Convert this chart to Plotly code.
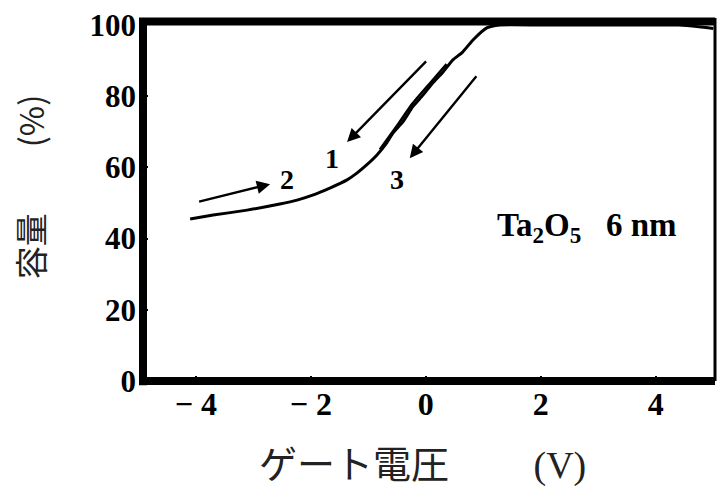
import plotly.graph_objects as go

# Capacitance vs. gate voltage (Ta2O5, 6 nm) – sweep curves
voltage_main = [-4.10, -3.70, -3.11, -2.54, -2.24, -1.97, -1.67, -1.37, -1.20, -1.03,
                -0.85, -0.68, -0.57, -0.40, -0.23, -0.05, 0.12, 0.30, 0.47, 0.64,
                0.82, 1.06, 1.29, 2.0, 3.0, 4.0, 4.4, 4.75, 5.0]
capacity_main = [45.5, 46.6, 48.0, 49.7, 50.8, 52.2, 54.2, 56.5, 58.4, 60.7,
                 63.5, 66.9, 69.7, 72.8, 77.0, 80.3, 83.7, 86.8, 90.2, 92.4,
                 95.8, 99.2, 100.0, 100.0, 100.0, 100.0, 100.0, 99.5, 99.0]

# second sweep branch running just beside the steep part
voltage_branch = [-0.80, -0.49, -0.23, 0.09, 0.36]
capacity_branch = [65.0, 72.0, 78.0, 84.0, 89.0]

# sweep-direction arrows: (tail V, tail C, head V, head C)
arrow_tails_v = [0.03, -3.97, 0.90]
arrow_tails_c = [90.2, 50.3, 86.0]
arrow_heads_v = [-1.37, -2.71, -0.28]
arrow_heads_c = [67.1, 55.3, 62.6]

# sweep labels
label_text = ["1", "2", "3"]
label_v = [-1.63, -2.42, -0.50]
label_c = [62.6, 56.5, 56.5]

x_tickvals = [-4, -2, 0, 2, 4]
x_ticktext = ["\u2212 4", "\u2212 2", "0", "2", "4"]
y_tickvals = [0, 20, 40, 60, 80, 100]

serif = "Liberation Serif"
cjk = "Noto Sans CJK JP"

fig = go.Figure()
fig.add_trace(go.Scatter(x=voltage_main, y=capacity_main, mode="lines",
                         line=dict(color="black", width=3, shape="spline", smoothing=0.5),
                         cliponaxis=False, hoverinfo="skip", showlegend=False))
fig.add_trace(go.Scatter(x=voltage_branch, y=capacity_branch, mode="lines",
                         line=dict(color="black", width=2.5, shape="spline", smoothing=0.5),
                         hoverinfo="skip", showlegend=False))

annotations = []
for tv, tc, hv, hc in zip(arrow_tails_v, arrow_tails_c, arrow_heads_v, arrow_heads_c):
    annotations.append(dict(x=hv, y=hc, ax=tv, ay=tc, xref="x", yref="y",
                            axref="x", ayref="y", text="", showarrow=True,
                            arrowhead=2, arrowsize=1.1, arrowwidth=2.4,
                            arrowcolor="black"))
for t, v, c in zip(label_text, label_v, label_c):
    annotations.append(dict(x=v, y=c, xref="x", yref="y", text=t, showarrow=False,
                            font=dict(family=serif, size=28, color="black",
                                      weight="bold")))

annotations.append(dict(x=2.8, y=43, xref="x", yref="y",
                        text="Ta<sub>2</sub>O<sub>5</sub>   6 nm", showarrow=False,
                        font=dict(family=serif, size=33, color="black", weight="bold")))

# axis titles
annotations.append(dict(x=0.488, y=-0.2275, xref="paper", yref="paper",
                        xanchor="center", yanchor="middle",
                        text="ゲート電圧　　 <span style='font-family:Liberation Serif'>(V)</span>",
                        showarrow=False, font=dict(family=cjk, size=38, color="#222")))
annotations.append(dict(x=-0.197, y=0.545, xref="paper", yref="paper",
                        xanchor="center", yanchor="middle",
                        text="容量　　(%)", textangle=-90, showarrow=False,
                        font=dict(family=cjk, size=33, color="#222")))

# heavy frame round the plotting area
frame = [
    dict(type="line", xref="paper", yref="paper", x0=0, x1=0, y0=-0.012, y1=1.02,
         line=dict(color="black", width=8)),
    dict(type="line", xref="paper", yref="paper", x0=-0.007, x1=1.0, y0=1.01, y1=1.01,
         line=dict(color="black", width=8)),
    dict(type="line", xref="paper", yref="paper", x0=-0.007, x1=1.0, y0=0, y1=0,
         line=dict(color="black", width=8)),
    dict(type="line", xref="paper", yref="paper", x0=1.0, x1=1.0, y0=0, y1=1.02,
         line=dict(color="black", width=3)),
]

fig.update_layout(
    width=717, height=489,
    margin=dict(l=143, r=2, t=25, b=108),
    paper_bgcolor="white", plot_bgcolor="white",
    annotations=annotations, shapes=frame,
    xaxis=dict(range=[-4.92, 5.03], tickvals=x_tickvals, ticktext=x_ticktext,
               ticks="inside", ticklen=5, tickwidth=2, tickcolor="black",
               minor=dict(dtick=1, ticks="inside", ticklen=4, tickwidth=2, tickcolor="black"),
               showgrid=False, zeroline=False, showline=False,
               ticklabelstandoff=1,
               tickfont=dict(family=serif, size=32, color="black", weight="bold")),
    yaxis=dict(range=[0, 100], tickvals=y_tickvals,
               ticks="inside", ticklen=5, tickwidth=2, tickcolor="black",
               showgrid=False, zeroline=False, showline=False,
               ticklabelstandoff=6,
               tickfont=dict(family=serif, size=31, color="black", weight="bold")),
)

fig.write_html("out.html")
